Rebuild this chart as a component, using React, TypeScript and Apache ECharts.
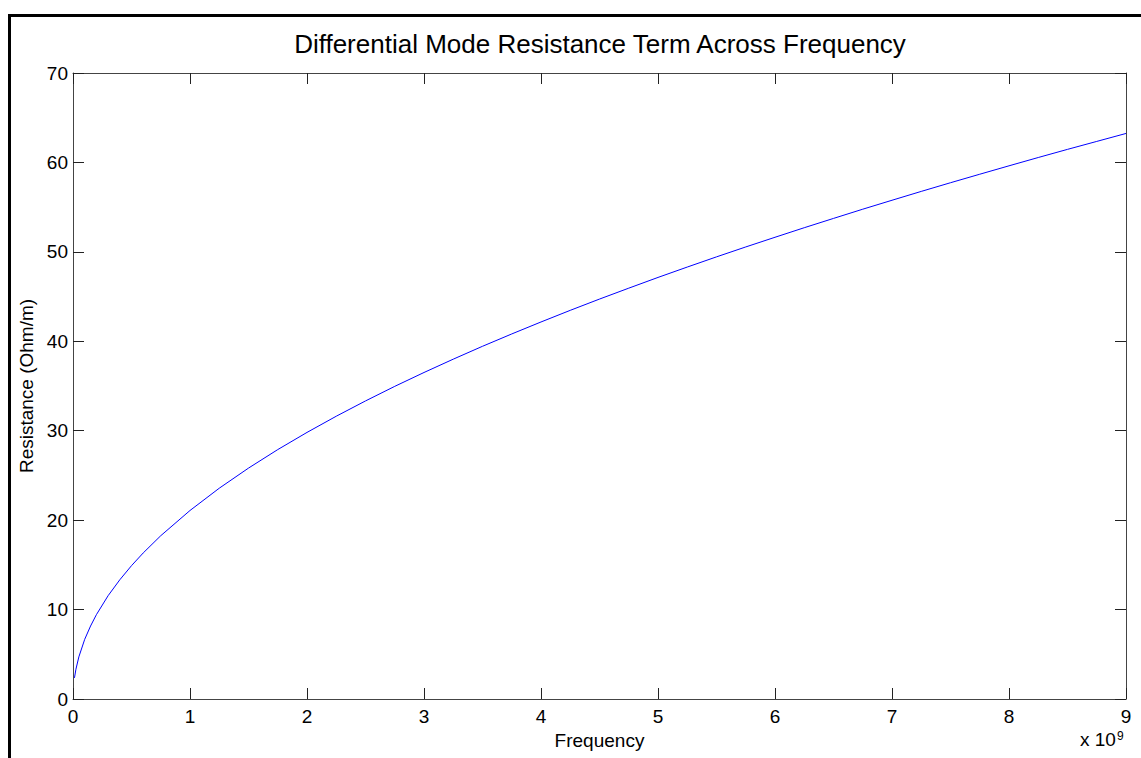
import React, { useEffect, useRef } from "react";
import * as echarts from "echarts";

// Frequency in units of 1e9 Hz (axis shows "x 10^9")
const frequencyGHz = [
  0.0125, 0.025, 0.05, 0.1, 0.15, 0.2, 0.3, 0.4, 0.5, 0.6, 0.75, 1,
  1.25, 1.5, 1.75, 2, 2.25, 2.5, 2.75, 3, 3.25, 3.5, 3.75, 4,
  4.25, 4.5, 4.75, 5, 5.25, 5.5, 5.75, 6, 6.25, 6.5, 6.75, 7,
  7.25, 7.5, 7.75, 8, 8.25, 8.5, 8.75, 9,
];
// Resistance in Ohm/m
const resistance = [
  2.36, 3.33, 4.71, 6.67, 8.16, 9.43, 11.55, 13.33, 14.91, 16.33, 18.26, 21.08,
  23.57, 25.82, 27.89, 29.81, 31.62, 33.33, 34.96, 36.51, 38.0, 39.44, 40.82, 42.16,
  43.46, 44.72, 45.94, 47.14, 48.3, 49.44, 50.55, 51.63, 52.7, 53.74, 54.77, 55.77,
  56.76, 57.73, 58.68, 59.62, 60.55, 61.46, 62.35, 63.24,
];
const xTickLabels = ["0", "1", "2", "3", "4", "5", "6", "7", "8", "9"];
const yTickLabels = ["0", "10", "20", "30", "40", "50", "60", "70"];

const titleText = "Differential Mode Resistance Term Across Frequency";
const xName = "Frequency";
const yName = "Resistance (Ohm/m)";

const FONT = "'Liberation Sans', Arial, sans-serif";

export default function App() {
  const ref = useRef<HTMLDivElement>(null);
  useEffect(() => {
    if (!ref.current) return;
    const chart = echarts.init(ref.current, undefined, { renderer: "svg" });
    const axisColor = "#444";
    const tickStyle = { show: true, inside: true, length: 11, lineStyle: { color: "#222", width: 1 } };
    const commonLine = { show: true, onZero: false, lineStyle: { color: axisColor, width: 1 } };
    chart.setOption({
      animation: false,
      backgroundColor: "#fff",
      grid: { left: 73, top: 73, right: 15, bottom: 59, containLabel: false },
      xAxis: [
        {
          type: "value",
          min: 0,
          max: 9,
          interval: 1,
          axisLine: commonLine,
          axisTick: tickStyle,
          splitLine: { show: false },
          axisLabel: {
            margin: 8,
            color: "#000",
            fontFamily: FONT,
            fontSize: 19,
            formatter: (v: number) => xTickLabels[Math.round(v)] ?? "",
          },
          name: xName,
          nameLocation: "middle",
          nameGap: 24,
          nameTextStyle: { color: "#000", fontFamily: FONT, fontSize: 19 },
        },
        {
          type: "value",
          position: "top",
          min: 0,
          max: 9,
          interval: 1,
          axisLine: commonLine,
          axisTick: tickStyle,
          axisLabel: { show: false },
          splitLine: { show: false },
        },
      ],
      yAxis: [
        {
          type: "value",
          min: 0,
          max: 70,
          interval: 10,
          axisLine: commonLine,
          axisTick: tickStyle,
          splitLine: { show: false },
          axisLabel: {
            margin: 5,
            color: "#000",
            fontFamily: FONT,
            fontSize: 19,
            formatter: (v: number) => yTickLabels[Math.round(v / 10)] ?? "",
          },
          name: yName,
          nameLocation: "middle",
          nameGap: 34,
          nameTextStyle: { color: "#000", fontFamily: FONT, fontSize: 19 },
        },
        {
          type: "value",
          position: "right",
          min: 0,
          max: 70,
          interval: 10,
          axisLine: commonLine,
          axisTick: tickStyle,
          axisLabel: { show: false },
          splitLine: { show: false },
        },
      ],
      series: [
        {
          type: "line",
          data: frequencyGHz.map((f, i) => [f, resistance[i]]),
          xAxisIndex: 0,
          yAxisIndex: 0,
          showSymbol: false,
          smooth: false,
          lineStyle: { color: "#0000ff", width: 1 },
        },
      ],
      graphic: [
        { type: "line", shape: { x1: 9.5, y1: 14, x2: 9.5, y2: 760 }, style: { stroke: "#000", lineWidth: 3 } },
        { type: "line", shape: { x1: 8, y1: 15.5, x2: 1145, y2: 15.5 }, style: { stroke: "#000", lineWidth: 3 } },
        {
          type: "text",
          x: 600,
          y: 44,
          style: {
            text: titleText,
            fontFamily: FONT,
            fontSize: 26,
            fill: "#000",
            align: "center",
            verticalAlign: "middle",
          },
        },
        {
          type: "text",
          x: 1080,
          y: 749,
          style: { text: "x 10", fontFamily: FONT, fontSize: 19, fill: "#000", align: "left", verticalAlign: "bottom" },
        },
        {
          type: "text",
          x: 1117,
          y: 742,
          style: { text: "9", fontFamily: FONT, fontSize: 12, fill: "#000", align: "left", verticalAlign: "bottom" },
        },
      ],
    });
    return () => chart.dispose();
  }, []);
  return (
    <div
      ref={ref}
      style={{ position: "fixed", left: 0, top: 0, width: 1141, height: 758, background: "#fff" }}
    />
  );
}
